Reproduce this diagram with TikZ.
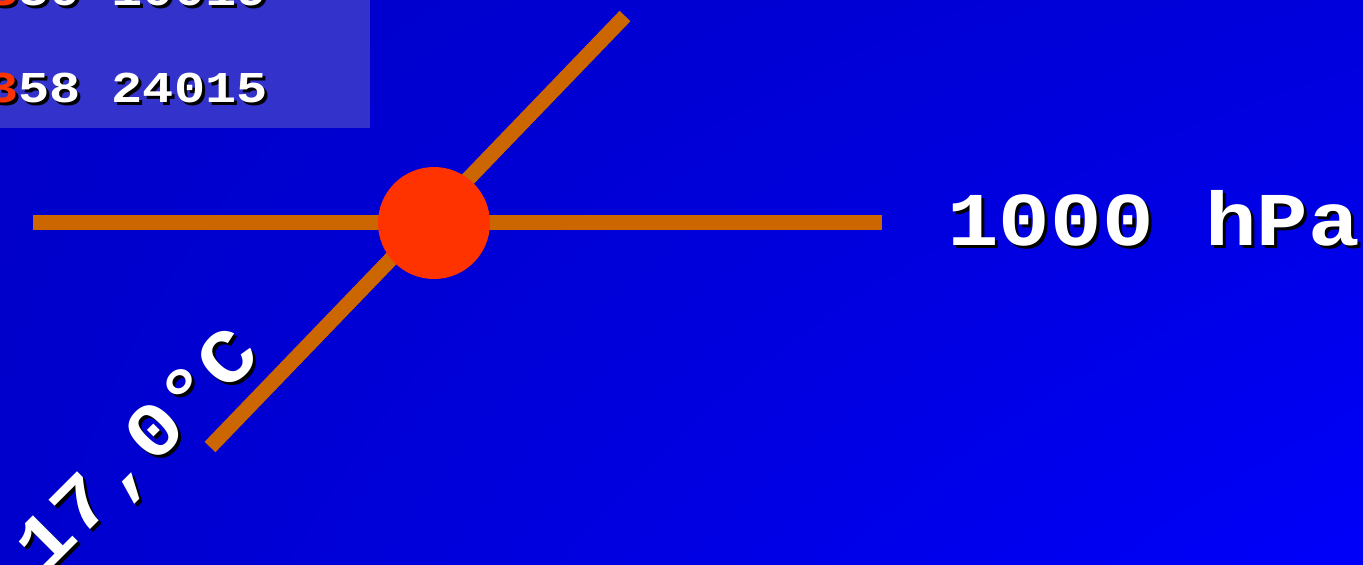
\documentclass[tikz,border=0pt]{standalone}
\usepackage{fontspec}
\usetikzlibrary{shadings}
\setmonofont{Liberation Mono}
\definecolor{ocker}{RGB}{204,102,0}
\definecolor{rot}{RGB}{255,51,0}
\definecolor{tafel}{RGB}{51,51,204}
\definecolor{blauA}{RGB}{0,0,200}
\definecolor{blauB}{RGB}{0,0,220}
\definecolor{blauC}{RGB}{0,0,205}
\definecolor{blauD}{RGB}{0,0,250}
\colorlet{akzent}{rot}
% 带阴影的文字
\newcommand{\schattentext}[4]{%
  \node[xshift=1.5pt, yshift=-1.5pt, #2, text=black,
        execute at begin node={\colorlet{akzent}{black}}] (#1-schatten) at #3 {#4};
  \node[#2, text=white] (#1) at #3 {#4};}

\begin{document}
\begin{tikzpicture}[x=0.5pt, y=-0.5pt,
    gross/.style={font=\ttfamily\bfseries\fontsize{38}{38}\selectfont, inner sep=0pt, xscale=1.13},
    klein/.style={font=\ttfamily\bfseries\fontsize{22}{22}\selectfont, inner sep=0pt, xscale=1.18},
    linie/.style={line width=7.5pt, draw=ocker}]
    % 背景
    \shade[upper left=blauA, upper right=blauB,
           lower left=blauC, lower right=blauD] (0,0) rectangle (1363,564);
    \useasboundingbox (0,0) rectangle (1363,564);
    \clip (0,0) rectangle (1363,564);

    % 左上角的数据框
    \fill[tafel] (0,0) rectangle (370,128);
    \schattentext{zeileA}{klein, anchor=base east}{(268,5)}{\textcolor{akzent}{3}50 10019}
    \schattentext{zeileB}{klein, anchor=base east}{(268,102)}{\textcolor{akzent}{3}58 24015}

    % 两条线
    \coordinate (links) at (33,222);
    \coordinate (rechts) at (882,222);
    \coordinate (unten) at (210,447);
    \coordinate (oben) at (625,16);
    \draw[linie] (links) -- (rechts);
    \draw[linie] (unten) -- (oben);

    % 测站点
    \node[circle, fill=rot, inner sep=0pt, minimum size=56pt] (station) at (434,223) {};

    % 标签
    \schattentext{druck}{gross, anchor=base west}{(947,245)}{1000 hPa}
    \schattentext{temp}{anchor=base west, rotate=45, gross}{(44,576)}{17,0°C}
\end{tikzpicture}
\end{document}
